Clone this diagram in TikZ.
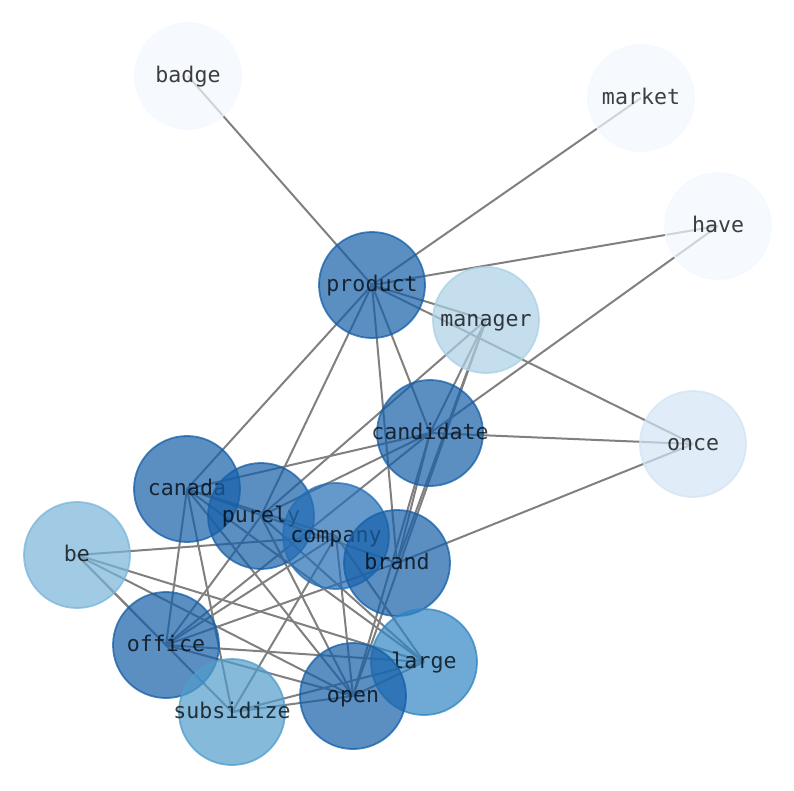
\documentclass[tikz,border=0pt]{standalone}
\usepackage{fontspec}
\setmonofont{DejaVu Sans Mono}
\usetikzlibrary{backgrounds}
\definecolor{cD}{RGB}{21,95,168}
\definecolor{cCo}{RGB}{36,110,182}
\definecolor{cL}{RGB}{48,134,195}
\definecolor{cS}{RGB}{81,156,204}
\definecolor{cBe}{RGB}{121,181,217}
\definecolor{cM}{RGB}{171,208,229}
\definecolor{cO}{RGB}{211,228,244}
\definecolor{cW}{RGB}{242,248,255}
\definecolor{edgegray}{RGB}{128,128,128}
\tikzset{
  wtext/.style={text=black, text opacity=0.75, inner sep=0pt,
    font=\ttfamily\fontsize{21.6}{26}\selectfont,
    text height=12pt, text depth=0pt},
  wnode/.style={circle, minimum size=106pt, inner sep=0pt, fill=#1, draw=#1,
    fill opacity=0.7, draw opacity=0.75, line width=1.8pt},
  link/.style={draw=edgegray, line width=2pt}
}
\newcommand{\wordnode}[4]{\node[wnode=#2, label={[wtext]center:#4}] (#1) at (#3) {};}
\begin{document}
\begin{tikzpicture}[x=1pt,y=-1pt]
\useasboundingbox (0,0) rectangle (794,790);
\wordnode{badge}{cW}{188,76}{badge}
\wordnode{market}{cW}{641,98}{market}
\wordnode{have}{cW}{718,226}{have}
\wordnode{product}{cD}{372,285}{product}
\wordnode{manager}{cM}{486,320}{manager}
\wordnode{candidate}{cD}{430,433}{candidate}
\wordnode{once}{cO}{693,444}{once}
\wordnode{canada}{cD}{187,489}{canada}
\wordnode{purely}{cD}{261,516}{purely}
\wordnode{company}{cCo}{336,536}{company}
\wordnode{brand}{cD}{397,563}{brand}
\wordnode{be}{cBe}{77,555}{be}
\wordnode{office}{cD}{166,645}{office}
\wordnode{large}{cL}{424,662}{large}
\wordnode{open}{cD}{353,696}{open}
\wordnode{subsidize}{cS}{232,712}{subsidize}
\begin{pgfonlayer}{background}
\foreach \a/\b in {product/badge, product/market, product/have, product/manager,
  product/once, product/canada, product/purely, product/brand, product/candidate,
  manager/purely, manager/candidate, manager/open, manager/brand,
  candidate/have, candidate/once, candidate/canada, candidate/purely,
  candidate/office, candidate/brand, candidate/open,
  once/brand, brand/office,
  canada/office, canada/subsidize, canada/open, canada/large, canada/brand, canada/company,
  purely/open, purely/large, purely/office,
  company/be, company/open, company/subsidize, company/office, company/large,
  be/office, be/subsidize, be/large, be/open,
  office/large, office/open, subsidize/open, subsidize/large, open/large}
  \draw[link] (\a.center) -- (\b.center);
\end{pgfonlayer}
\end{tikzpicture}
\end{document}
